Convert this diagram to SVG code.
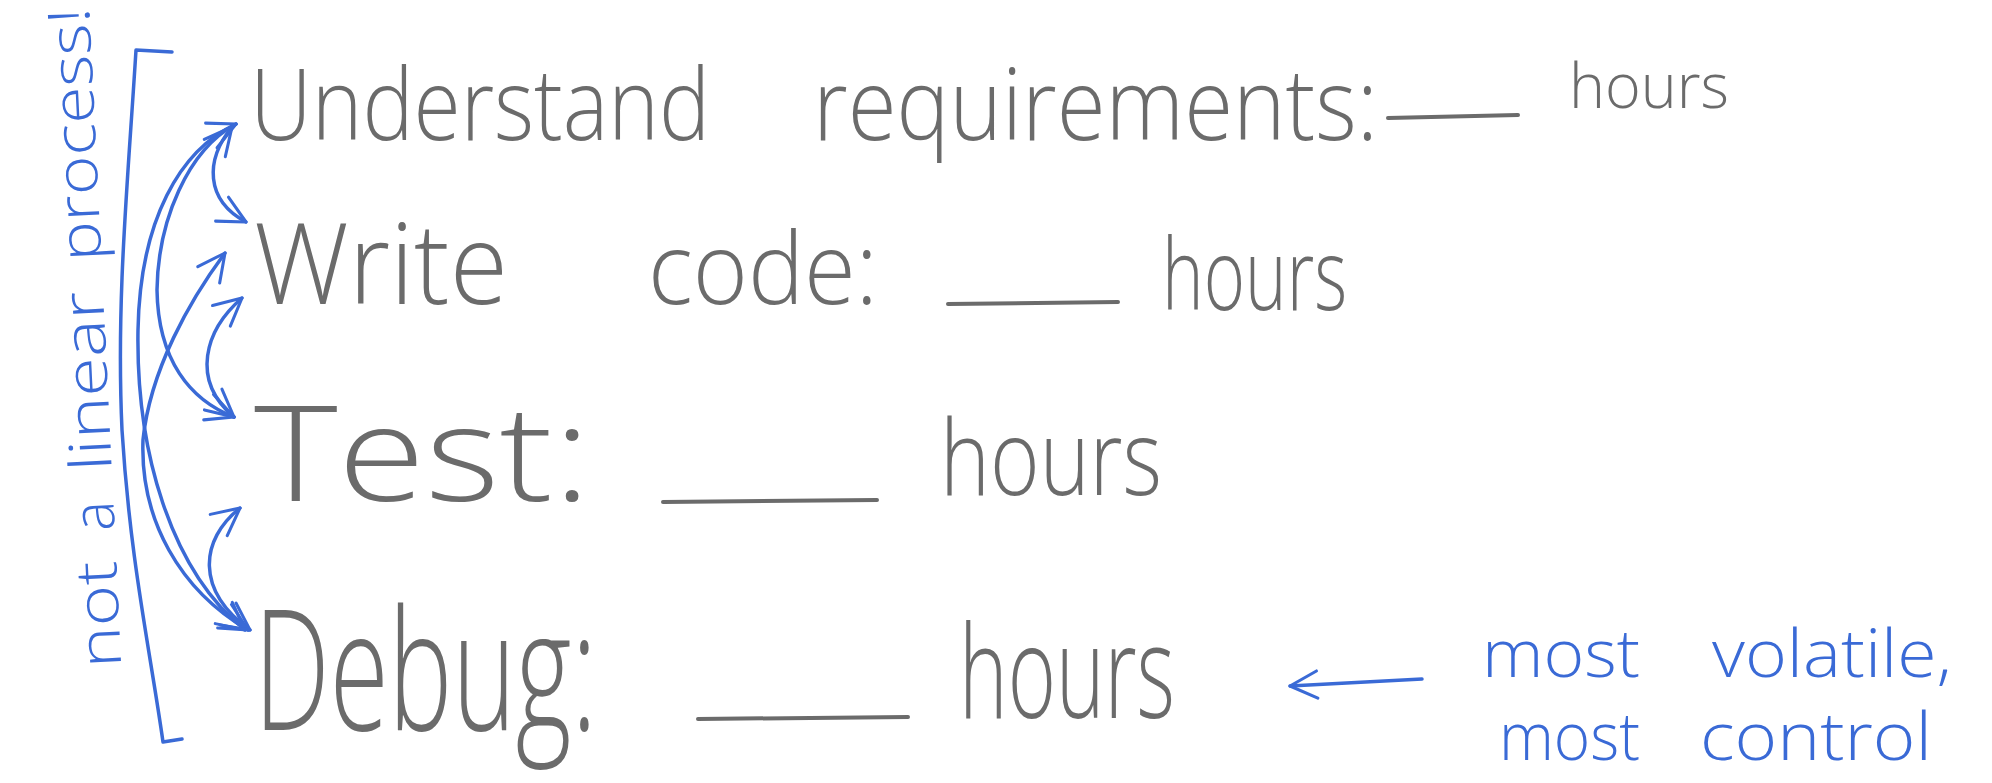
<svg xmlns="http://www.w3.org/2000/svg" width="1992" height="783" viewBox="0 0 1992 783">
<style>
.pen{font-family:"Open Sans","Liberation Sans",sans-serif;font-weight:300;fill:#6b6b6b}
.blue{font-family:"Open Sans","Liberation Sans",sans-serif;font-weight:300;fill:#3a6ad6}
.ul{stroke:#6b6b6b;stroke-width:4;stroke-linecap:round;fill:none}
.bl{stroke:#3a6ad6;stroke-width:3.5;fill:none;stroke-linecap:round;stroke-linejoin:round}
</style>
<defs>
<marker id="v" viewBox="0 0 20 20" refX="18" refY="10" markerWidth="34" markerHeight="34" markerUnits="userSpaceOnUse" orient="auto-start-reverse">
<path d="M2 2 L18 10 L2 18" fill="none" stroke="#3a6ad6" stroke-width="1.8" stroke-linecap="round" stroke-linejoin="round"/>
</marker>
</defs>
<rect width="1992" height="783" fill="#ffffff"/>

<g id="understand">
<text class="pen" x="250" y="140" font-size="100" textLength="460" lengthAdjust="spacingAndGlyphs">Understand</text>
<text class="pen" x="813" y="140" font-size="100" textLength="565" lengthAdjust="spacingAndGlyphs">requirements:</text>
<path class="ul" d="M1388 118 L1518 115"/>
<text class="pen" x="1569" y="108" font-size="62" textLength="160" lengthAdjust="spacingAndGlyphs">hours</text>
</g>

<g id="write">
<text class="pen" x="254" y="304" font-size="112" textLength="254" lengthAdjust="spacingAndGlyphs">Write</text>
<text class="pen" x="648" y="304" font-size="100" textLength="230" lengthAdjust="spacingAndGlyphs">code:</text>
<path class="ul" d="M948 304 L1118 302"/>
<text class="pen" x="1162" y="310" font-size="100" textLength="185" lengthAdjust="spacingAndGlyphs">hours</text>
</g>

<g id="test">
<text class="pen" x="254" y="501" font-size="132" textLength="337" lengthAdjust="spacingAndGlyphs">Test:</text>
<path class="ul" d="M663 502 L877 500"/>
<text class="pen" x="940" y="495" font-size="105" textLength="222" lengthAdjust="spacingAndGlyphs">hours</text>
</g>

<g id="debug">
<text class="pen" x="254" y="730" font-size="168" textLength="343" lengthAdjust="spacingAndGlyphs">Debug:</text>
<path class="ul" d="M698 719 L908 717"/>
<text class="pen" x="959" y="718" font-size="130" textLength="216" lengthAdjust="spacingAndGlyphs">hours</text>
</g>

<g id="note">
<text class="blue" x="1482" y="677" font-size="66" textLength="158" lengthAdjust="spacingAndGlyphs">most</text>
<text class="blue" x="1712" y="677" font-size="66" textLength="240" lengthAdjust="spacingAndGlyphs">volatile,</text>
<text class="blue" x="1499" y="760" font-size="66" textLength="141" lengthAdjust="spacingAndGlyphs">most</text>
<text class="blue" x="1700" y="760" font-size="66" textLength="232" lengthAdjust="spacingAndGlyphs">control</text>
</g>

<g id="side-label">
<text class="blue" font-size="58" transform="translate(127,783) rotate(-92.8)"><tspan x="116" textLength="107" lengthAdjust="spacingAndGlyphs">not</tspan><tspan x="253" textLength="30" lengthAdjust="spacingAndGlyphs">a</tspan><tspan x="313" textLength="180" lengthAdjust="spacingAndGlyphs">linear</tspan><tspan x="523" textLength="254" lengthAdjust="spacingAndGlyphs">process!</tspan></text>
</g>

<g id="bracket">
<path class="bl" d="M172 52 L136 50 C128 180 116 300 122 430 C130 560 150 650 163 742 L182 739"/>
</g>

<g id="connectors">
<path class="bl" d="M236 124 C180 150 140 220 138 330 C136 450 170 570 245 630" marker-end="url(#v)" marker-start="url(#v)"/>
<path class="bl" d="M236 124 C188 150 158 220 157 290 C158 360 190 400 234 417" marker-end="url(#v)"/>
<path class="bl" d="M225 253 C190 300 150 370 143 440 C140 520 180 590 248 630" marker-start="url(#v)" marker-end="url(#v)"/>
<path class="bl" d="M232 127 C205 160 205 200 246 222" marker-start="url(#v)" marker-end="url(#v)"/>
<path class="bl" d="M242 298 C205 330 190 380 234 417" marker-start="url(#v)" marker-end="url(#v)"/>
<path class="bl" d="M240 508 C200 540 195 590 250 630" marker-start="url(#v)" marker-end="url(#v)"/>
<path class="bl" d="M1422 679 L1290 686" marker-end="url(#v)"/>
</g>
</svg>
